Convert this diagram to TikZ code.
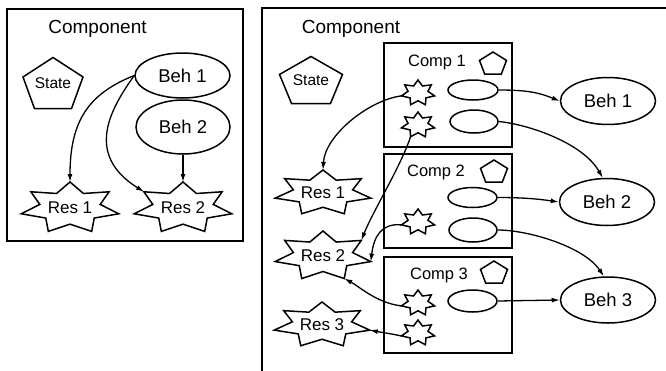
\documentclass[tikz,border=0pt]{standalone}
\usepackage{fontspec}
\setmainfont{Liberation Sans}
\usetikzlibrary{shapes.geometric,arrows.meta,calc}
\newcommand\szComponent{\fontsize{19}{22}\selectfont}
\newcommand\szBeh{\fontsize{18.5}{21}\selectfont}
\newcommand\szRes{\fontsize{17}{20}\selectfont}
\newcommand\szState{\fontsize{15.5}{18}\selectfont}
\newcommand\szComp{\fontsize{16.5}{19}\selectfont}
% pentagon outline around a node: name, width, height
\newcommand\pentat[3]{\draw[shp,shift={(#1.center)}] (0,-#3/2) -- (#2/2,-#3/2+0.382*#3) -- (0.309*#2,#3/2) -- (-0.309*#2,#3/2) -- (-#2/2,-#3/2+0.382*#3) -- cycle;}
% seven-point star outline around a node: name, rx, ry, inner ratio
\newcommand\starat[4]{\draw[shp,shift={(#1.center)}] (0,-#3) \foreach \k in {1,...,13}{ -- ({#2*cos(270+\k*180/7)*(1-(1-#4)*mod(\k,2))},{#3*sin(270+\k*180/7)*(1-(1-#4)*mod(\k,2))}) } -- cycle;}
\begin{document}
\begin{tikzpicture}[x=1pt,y=-1pt,
  shp/.style={draw=black,line width=1.5pt,line join=miter},
  frame/.style={draw=black,line width=1.9pt},
  txt/.style={inner sep=0pt,text=black},
  ell/.style={ellipse,draw=black,line width=1.5pt,inner sep=0pt},
  box/.style={rectangle,draw=black,line width=1.7pt,inner sep=0pt},
  conn/.style={draw=black,line width=1.3pt,-{Latex[length=8pt,width=5pt]}}]
\useasboundingbox (0,0) rectangle (666,370);
\fill[white] (0,0) rectangle (666,370);

% ---------------- left component ----------------
\draw[frame] (7,9) rectangle (243,241);
\node[txt,font=\szComponent] (lcomp) at (97.5,28.5) {Component};
\node[txt,font=\szState] (lstate) at (53,83) {State};
\pentat{lstate}{60}{51}
\node[ell,font=\szBeh,minimum width=95pt,minimum height=45pt] (lbeh1) at (182.5,75.5) {Beh 1};
\node[ell,font=\szBeh,minimum width=94pt,minimum height=54pt] (lbeh2) at (183,127) {Beh 2};
\node[txt,font=\szRes] (lres1) at (70,208) {Res 1};
\starat{lres1}{50}{26}{0.62}
\node[txt,font=\szRes] (lres2) at (183,208) {Res 2};
\starat{lres2}{50}{26}{0.62}
\coordinate (lres1t) at ([shift={(0,-26)}]lres1.center);
\coordinate (lres2t) at ([shift={(0,-26)}]lres2.center);
\coordinate (lres2ul) at ([shift={(-39,-16.2)}]lres2.center);
\draw[conn] (lbeh1.west) .. controls +(-45,18) and +(0,-62) .. (lres1t);
\draw[conn] (lbeh1.west) .. controls +(-25,35) and +(-59,-37) .. (lres2ul);
\draw[conn] (lbeh2.south) -- (lres2t);

% ---------------- right component ----------------
\draw[frame] (666,8) -- (262,8) -- (262,372);
\node[txt,font=\szComponent] (rcomp) at (351,28.5) {Component};
\node[txt,font=\szState] (rstate) at (311,80) {State};
\pentat{rstate}{63}{47}

\node[box,minimum width=128pt,minimum height=104pt] (c1) at (448,95) {};
\node[box,minimum width=128pt,minimum height=94pt] (c2) at (448,201) {};
\node[box,minimum width=128pt,minimum height=96pt] (c3) at (448,305) {};
\node[txt,font=\szComp] (ct1) at (437,62) {Comp 1};
\node[txt,font=\szComp] (ct2) at (436,172) {Comp 2};
\node[txt,font=\szComp] (ct3) at (439,275) {Comp 3};
\node[inner sep=0pt] (p1) at (493,63) {};
\node[inner sep=0pt] (p2) at (494,171) {};
\node[inner sep=0pt] (p3) at (494,272) {};
\pentat{p1}{27}{22}
\pentat{p2}{27}{22}
\pentat{p3}{27}{22}

\node[ell,minimum width=50pt,minimum height=20pt] (e11) at (473,90) {};
\node[ell,minimum width=48pt,minimum height=23pt] (e12) at (474,121.5) {};
\node[ell,minimum width=49pt,minimum height=20pt] (e21) at (472.5,197.5) {};
\node[ell,minimum width=48pt,minimum height=24pt] (e22) at (473,230) {};
\node[ell,minimum width=49pt,minimum height=22pt] (e3) at (472.5,301) {};

\node[inner sep=0pt] (s11) at (418,93) {};
\node[inner sep=0pt] (s12) at (418,125) {};
\node[inner sep=0pt] (s2) at (418,222) {};
\node[inner sep=0pt] (s31) at (418,303) {};
\node[inner sep=0pt] (s32) at (418,333) {};
\starat{s11}{17}{13}{0.6}
\starat{s12}{17}{13}{0.6}
\starat{s2}{17}{13}{0.6}
\starat{s31}{17}{13}{0.6}
\starat{s32}{17}{13}{0.6}

\node[ell,font=\szBeh,minimum width=95pt,minimum height=47pt] (rb1) at (608,101) {Beh 1};
\node[ell,font=\szBeh,minimum width=95pt,minimum height=47pt] (rb2) at (607,202) {Beh 2};
\node[ell,font=\szBeh,minimum width=95pt,minimum height=46pt] (rb3) at (608,300) {Beh 3};

\node[txt,font=\szRes] (rr1) at (323,193) {Res 1};
\node[txt,font=\szRes] (rr2) at (323,256) {Res 2};
\node[txt,font=\szRes] (rr3) at (322,325) {Res 3};
\starat{rr1}{49}{23}{0.62}
\starat{rr2}{49}{25}{0.62}
\starat{rr3}{49}{23}{0.62}

% anchor points on the stars
\coordinate (s11w) at ([shift={(-16.6,2.9)}]s11.center);
\coordinate (s12b) at ([shift={(-7.4,11.7)}]s12.center);
\coordinate (s2w) at ([shift={(-16.6,2.9)}]s2.center);
\coordinate (s31w) at ([shift={(-16.6,2.9)}]s31.center);
\coordinate (s32w) at ([shift={(-16.6,2.9)}]s32.center);
\coordinate (rr1t) at ([shift={(0,-23)}]rr1.center);
\coordinate (rr2ur) at ([shift={(38.3,-15.6)}]rr2.center);
\coordinate (rr2r) at ([shift={(47.8,5.6)}]rr2.center);
\coordinate (rr2lr) at ([shift={(21.3,22.5)}]rr2.center);
\coordinate (rr3r) at ([shift={(47.8,5.1)}]rr3.center);

% behaviour connectors
\draw[conn] (e11.east) .. controls +(30,0) and +(-20,-8) .. (rb1.west);
\draw[conn] (e12.east) .. controls +(30,3) and +(-20,-35) .. (rb2.100);
\draw[conn] (e21.east) .. controls +(25,0) and +(-20,-3) .. (rb2.west);
\draw[conn] (e22.east) .. controls +(30,0) and +(-20,-30) .. (rb3.100);
\draw[conn] (e3.east) -- (rb3.west);

% resource connectors
\draw[conn] (s11w) .. controls +(-32,4) and +(2,-35) .. (rr1t);
\draw[conn] (s12b) .. controls +(-10,30) and +(12,-30) .. (rr2ur);
\draw[conn] (s2w) .. controls +(-20,-2) and +(3,-25) .. (rr2r);
\draw[conn] (s31w) .. controls +(-25,-3) and +(15,8) .. (rr2lr);
\draw[conn] (s32w) .. controls +(-15,-3) and +(10,2) .. (rr3r);
\end{tikzpicture}
\end{document}
